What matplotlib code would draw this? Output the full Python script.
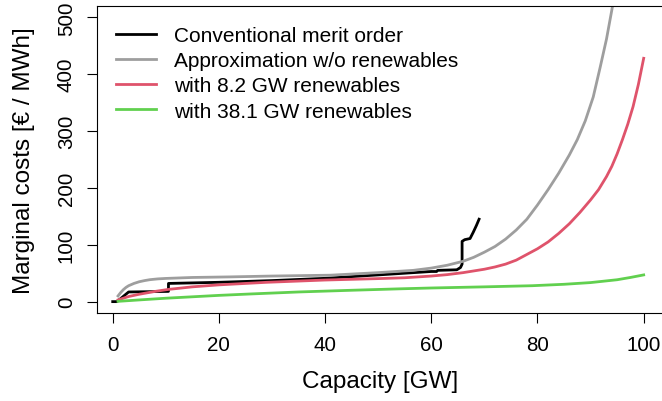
import matplotlib

matplotlib.use("Agg")
import matplotlib.pyplot as plt

# conventional merit order (step curve), GW vs EUR/MWh
cap_merit = [0.0, 0.8, 3.0, 10.5, 10.5, 20, 30, 40, 45, 50, 55, 60, 61.0, 61.2,
             64.8, 65.5, 65.8, 65.8, 66.3, 67.3, 67.9, 68.5, 69.0]
cost_merit = [0, 0, 17, 18, 32, 34, 37, 41, 44, 47, 50, 53, 53, 55,
              56, 60, 66, 106, 109, 111, 122, 134, 145]

# approximation without renewables
cap_approx = [1.0, 1.5, 2, 2.5, 3, 4, 5, 6, 7, 8.5, 10, 15, 22, 30, 41, 50, 56.6,
              60, 63, 66, 68, 70, 72, 74, 76, 78, 80, 82, 84, 86, 87.5, 89, 90.5,
              91.8, 93, 94.1, 94.6]
cost_approx = [10, 16, 21, 25, 28, 32, 35, 37, 38.6, 40, 40.8, 42.5, 43.5, 45,
               46.5, 51, 55, 59, 64, 71, 78, 87, 97, 110, 126, 145, 170, 197, 226,
               258, 285, 318, 360, 412, 462, 518, 545]

# with 8.2 GW renewables
cap_re8 = [1, 2, 3, 5, 8, 10.5, 15, 20, 29, 40, 50, 55, 60, 63, 66, 68, 70, 72,
           74, 76, 78, 80, 82, 84, 86, 88, 90, 91.5, 93, 94, 95, 96, 97, 98, 99, 100]
cost_re8 = [3, 6, 9, 13, 18, 21.5, 26, 29.5, 34, 38, 40.5, 42, 45, 47.5, 51, 54,
            57, 61, 66, 73, 83, 93, 105, 120, 137, 157, 179, 197, 220, 238, 260,
            285, 312, 343, 382, 428]

# with 38.1 GW renewables
cap_re38 = [1, 5, 10, 15, 20, 26, 35, 45, 54, 60, 70, 79, 85, 90, 95, 97.5, 100]
cost_re38 = [0.5, 3, 6, 8.5, 11, 13.5, 17, 20, 22.5, 24, 26, 28, 30.5, 33.5, 38.5,
             42.5, 47]

labels = [
    "Conventional merit order",
    "Approximation w/o renewables",
    "with 8.2 GW renewables",
    "with 38.1 GW renewables",
]
colors = ["black", "#9E9E9E", "#DF536B", "#61D04F"]

plt.rcParams["font.family"] = ["Liberation Sans", "DejaVu Sans"]

fig = plt.figure(figsize=(6.62, 4.02), dpi=100)
ax = fig.add_axes([97 / 662, 1 - 314 / 402, 565 / 662, 307 / 402])

series = [
    (cap_merit, cost_merit),
    (cap_approx, cost_approx),
    (cap_re8, cost_re8),
    (cap_re38, cost_re38),
]
for (xs, ys), col, lab in zip(series, colors, labels):
    ax.plot(xs, ys, color=col, linewidth=2.0, label=lab, solid_joinstyle="round")

ax.set_xlim(-2.96, 103.45)
ax.set_ylim(-20, 520)
ax.set_xticks([0, 20, 40, 60, 80, 100])
ax.set_yticks([0, 100, 200, 300, 400, 500])
ax.tick_params(axis="both", direction="out", length=7.2, width=0.8,
               labelsize=14.8, color="black")
ax.tick_params(axis="x", pad=9)
ax.tick_params(axis="y", pad=8)
for lbl in ax.get_yticklabels():
    lbl.set_rotation(90)
    lbl.set_va("center")
for side in ["left", "bottom", "top"]:
    ax.spines[side].set_linewidth(0.8)
ax.spines["right"].set_visible(False)

ax.set_xlabel("Capacity [GW]", fontsize=17.5, va="center")
ax.xaxis.set_label_coords((380.5 - 97) / 565, (314 - 382) / 307)
ax.set_ylabel("Marginal costs [€ / MWh]", fontsize=17.5, va="center")
ax.yaxis.set_label_coords((24 - 97) / 565, 0.5)

ax.legend(loc="upper left", bbox_to_anchor=((116 - 97) / 565, (314 - 27) / 307),
          frameon=False, fontsize=15, handlelength=1.9, handletextpad=0.9,
          labelspacing=0.3, borderpad=0, borderaxespad=0)

fig.savefig("out.png", dpi=100)
